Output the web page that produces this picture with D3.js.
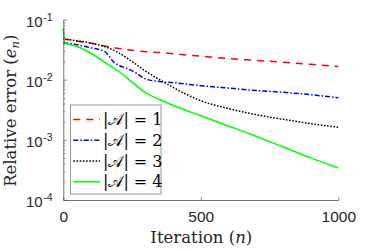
<!DOCTYPE html>
<html>
<head>
<meta charset="utf-8">
<script src="https://cdn.jsdelivr.net/npm/d3@7/dist/d3.min.js"></script>
<style>
  html, body { margin: 0; padding: 0; background: #fff; }
  svg { display: block; }
</style>
</head>
<body>
<svg id="chart" width="374" height="251"></svg>
<script>
// ---- data ----
const legendLabels = ["1", "2", "3", "4"];
const xTicks = [0, 500, 1000];
const yTicks = [1e-1, 1e-2, 1e-3, 1e-4];
const yTickExponents = ["-1", "-2", "-3", "-4"];

const iterA1 = [0, 6, 50, 100, 150, 200, 250, 300, 350, 400, 500, 600, 700, 800, 900, 1000];
const errA1  = [0.0468, 0.0468, 0.0437, 0.0403, 0.0363, 0.0331, 0.0309, 0.0292, 0.0282, 0.0269, 0.0245, 0.0224, 0.0209, 0.0195, 0.0180, 0.0166];

const iterA2 = [0, 6, 50, 100, 150, 165, 180, 200, 230, 265, 300, 350, 400, 500, 600, 700, 800, 900, 1000];
const errA2  = [0.0407, 0.0407, 0.0380, 0.0339, 0.0295, 0.0251, 0.0204, 0.0174, 0.0155, 0.0129, 0.0102, 0.00933, 0.00891, 0.00794, 0.00724, 0.00661, 0.00617, 0.00562, 0.00501];

const iterA3 = [0, 6, 50, 100, 150, 200, 250, 300, 350, 400, 450, 500, 600, 700, 800, 900, 1000];
const errA3  = [0.0468, 0.0468, 0.0442, 0.0407, 0.0355, 0.0282, 0.0200, 0.0138, 0.0100, 0.00741, 0.00562, 0.00447, 0.00331, 0.00263, 0.00219, 0.00186, 0.00162];

const iterA4 = [0, 6, 50, 100, 150, 200, 250, 300, 350, 400, 500, 600, 700, 800, 900, 1000];
const errA4  = [0.0708, 0.0407, 0.0355, 0.0275, 0.0195, 0.0138, 0.00912, 0.00603, 0.00468, 0.00372, 0.00251, 0.00170, 0.00115, 0.000759, 0.000501, 0.000339];

const seriesIters = [iterA1, iterA2, iterA3, iterA4];
const seriesErrs  = [errA1, errA2, errA3, errA4];
const seriesColors = ["#ff0000", "#0000ff", "#000000", "#00ff00"];
const seriesDash = ["7,6", "5,2,1.5,2", "1.6,1.6", null];

// ---- layout ----
const svg = d3.select("#chart");
const mLeft = 63.3, mRight = 338.3, mTop = 19.5, mBottom = 200;
const axisColor = "#3a3a3a";

const x = d3.scaleLinear().domain([0, 1000]).range([mLeft, mRight]);
const y = d3.scaleLog().domain([1e-4, 1e-1]).range([mBottom, mTop]);

svg.append("rect").attr("width", 374).attr("height", 251).attr("fill", "#fff");

// lines
const line = d3.line().x(d => x(d[0])).y(d => y(d[1])).curve(d3.curveMonotoneX);
seriesIters.forEach((it, i) => {
  const pts = it.map((n, k) => [n, seriesErrs[i][k]]);
  svg.append("path")
    .attr("d", line(pts))
    .attr("fill", "none")
    .attr("stroke", seriesColors[i])
    .attr("stroke-width", 1.5)
    .attr("stroke-dasharray", seriesDash[i]);
});

// x axis (ticks inward)
const gx = svg.append("g").attr("transform", `translate(0,${mBottom})`)
  .call(d3.axisBottom(x).tickValues(xTicks).tickSizeInner(-3).tickSizeOuter(0).tickPadding(10.5).tickFormat(d3.format("d")));
gx.select(".domain").attr("stroke", axisColor).attr("stroke-width", 0.7);
gx.selectAll(".tick line").attr("stroke", axisColor).attr("stroke-width", 0.6);
gx.selectAll(".tick text").attr("font-family", "Liberation Sans, Arial, sans-serif").attr("font-size", 15.5).attr("fill", "#262626");

// y minor ticks
const minorVals = [];
[1e-4, 1e-3, 1e-2].forEach(dec => { for (let m = 2; m <= 9; m++) minorVals.push(dec * m); });
const gyMinor = svg.append("g").attr("transform", `translate(${mLeft},0)`)
  .call(d3.axisLeft(y).tickValues(minorVals).tickSizeInner(-2).tickSizeOuter(0).tickFormat(""));
gyMinor.select(".domain").remove();
gyMinor.selectAll(".tick line").attr("stroke", axisColor).attr("stroke-width", 0.5);

// y major axis
const gy = svg.append("g").attr("transform", `translate(${mLeft},0)`)
  .call(d3.axisLeft(y).tickValues(yTicks).tickSizeInner(-3.5).tickSizeOuter(0).tickFormat(""));
gy.select(".domain").attr("stroke", axisColor).attr("stroke-width", 0.7);
gy.selectAll(".tick line").attr("stroke", axisColor).attr("stroke-width", 0.6);
gy.selectAll(".tick").each(function(d, i) {
  const t = d3.select(this).append("text")
    .attr("x", -37.3).attr("y", 0)
    .attr("text-anchor", "start")
    .attr("font-family", "Liberation Sans, Arial, sans-serif")
    .attr("fill", "#262626");
  t.append("tspan").attr("font-size", 15).attr("dy", "6.8").text("10");
  t.append("tspan").attr("font-size", 10.5).attr("dy", "-6").attr("dx", "0.5").text(yTickExponents[i]);
});

// axis labels
const labFont = "DejaVu Serif, Liberation Serif, serif";
const xl = svg.append("text").attr("x", (mLeft + mRight) / 2 + 0.5).attr("y", 243)
  .attr("text-anchor", "middle").attr("font-family", labFont).attr("font-size", 16.5).attr("fill", "#262626");
xl.append("tspan").text("Iteration (");
xl.append("tspan").attr("font-style", "italic").text("n");
xl.append("tspan").text(")");

const yl = svg.append("text").attr("transform", `translate(15.5,${(mTop + mBottom) / 2 + 1}) rotate(-90)`)
  .attr("text-anchor", "middle").attr("font-family", labFont).attr("font-size", 16.5).attr("fill", "#262626");
yl.append("tspan").text("Relative error (");
yl.append("tspan").attr("font-style", "italic").text("e");
yl.append("tspan").attr("font-style", "italic").attr("font-size", 11.5).attr("dy", 3).text("n");
yl.append("tspan").attr("dy", -3).text(")");

// legend
const lg = svg.append("g");
lg.append("rect").attr("x", 70.5).attr("y", 105).attr("width", 90.5).attr("height", 89)
  .attr("fill", "#fff").attr("stroke", "#6a6a6a").attr("stroke-width", 0.7);
const rowY = [119.5, 140.3, 161, 181.8];
legendLabels.forEach((lab, i) => {
  lg.append("line").attr("x1", 73.3).attr("x2", 100).attr("y1", rowY[i]).attr("y2", rowY[i])
    .attr("stroke", seriesColors[i]).attr("stroke-width", 1.5).attr("stroke-dasharray", seriesDash[i]);
  const t = lg.append("text").attr("x", 103).attr("y", rowY[i] + 5.5)
    .attr("font-family", labFont).attr("font-size", 16).attr("fill", "#000");
  t.append("tspan").text("|");
  t.append("tspan").text("𝒜");
  t.append("tspan").text("| = " + lab);
});
</script>
</body>
</html>
